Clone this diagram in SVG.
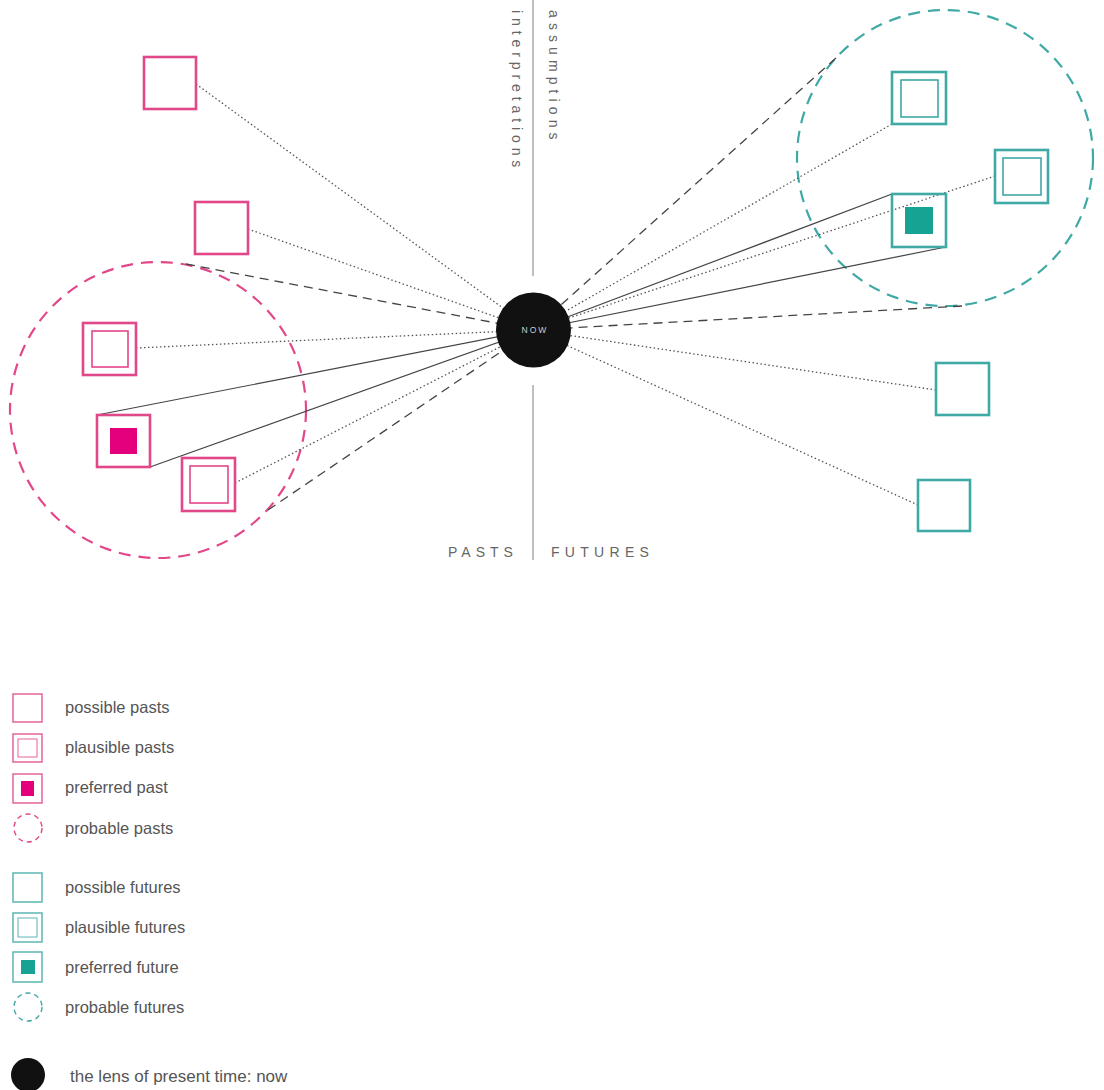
<svg xmlns="http://www.w3.org/2000/svg" width="1104" height="1090" viewBox="0 0 1104 1090">
<style>
.pk{fill:none;stroke:#e2478a;stroke-width:2.6}
.pki{fill:none;stroke:#e2478a;stroke-width:1.6}
.tl{fill:none;stroke:#3fa9a5;stroke-width:2.6}
.tli{fill:none;stroke:#3fa9a5;stroke-width:1.6}
.lpk{fill:none;stroke:#e2478a;stroke-width:1.5;opacity:.85}
.ltl{fill:none;stroke:#3fa9a5;stroke-width:1.5;opacity:.85}
.dot{stroke:#555;stroke-width:1.3;stroke-dasharray:1.5 2.5;fill:none}
.dash{stroke:#444;stroke-width:1.3;stroke-dasharray:9 6;fill:none}
.sol{stroke:#444;stroke-width:1.2;fill:none}
.axis{stroke:#aaa;stroke-width:1.5}
.lbl{font-family:"Liberation Sans",Arial,sans-serif;font-size:14px;fill:#666;letter-spacing:5px}
.leg{font-family:"Liberation Sans",Arial,sans-serif;font-size:16.5px;fill:#555}
</style>

<g id="axes">
<line class="axis" x1="533" y1="0" x2="533" y2="276"/>
<line class="axis" x1="533" y1="385" x2="533" y2="560"/>
<text class="lbl" transform="translate(512,10) rotate(90)" style="letter-spacing:4.9px">interpretations</text>
<text class="lbl" transform="translate(549,10) rotate(90)" style="letter-spacing:5.1px">assumptions</text>
<text class="lbl" x="448" y="557">PASTS</text>
<text class="lbl" x="551" y="557" style="letter-spacing:5.3px">FUTURES</text>
</g>

<g id="probable-pasts"><circle cx="158" cy="410" r="148" fill="none" stroke="#e2478a" stroke-width="2.2" stroke-dasharray="12 8"/></g>
<g id="probable-futures"><circle cx="945" cy="158" r="148" fill="none" stroke="#3fa9a5" stroke-width="2.2" stroke-dasharray="12 8"/></g>

<g id="connectors">
<line class="dot" x1="196" y1="84" x2="533" y2="330"/>
<line class="dot" x1="248" y1="229" x2="533" y2="330"/>
<line class="dash" x1="186" y1="264" x2="533" y2="330"/>
<line class="dot" x1="136" y1="348" x2="533" y2="330"/>
<line class="sol" x1="97" y1="415" x2="533" y2="330"/>
<line class="sol" x1="150" y1="467" x2="533" y2="330"/>
<line class="dot" x1="235" y1="483" x2="533" y2="330"/>
<line class="dash" x1="268" y1="510" x2="533" y2="330"/>
<line class="dash" x1="836" y1="58" x2="533" y2="330"/>
<line class="dot" x1="892" y1="124" x2="533" y2="330"/>
<line class="dot" x1="995" y1="176" x2="533" y2="330"/>
<line class="sol" x1="892" y1="194" x2="533" y2="330"/>
<line class="sol" x1="946" y1="247" x2="533" y2="330"/>
<line class="dash" x1="962" y1="306" x2="533" y2="330"/>
<line class="dot" x1="936" y1="390" x2="533" y2="330"/>
<line class="dot" x1="918" y1="505" x2="533" y2="330"/>
</g>

<g id="now">
<circle cx="533.5" cy="330" r="37.5" fill="#111"/>
<text x="535" y="333" text-anchor="middle" font-family="'Liberation Sans',Arial,sans-serif" font-size="8.5" fill="#cccccc" letter-spacing="2">NOW</text>
</g>

<g id="possible-past-1"><rect class="pk" x="144" y="57" width="52" height="52"/></g>
<g id="possible-past-2"><rect class="pk" x="195" y="202" width="53" height="52"/></g>
<g id="plausible-past-1"><rect class="pk" x="83" y="323" width="53" height="52"/><rect class="pki" x="92" y="331" width="36" height="36"/></g>
<g id="preferred-past"><rect class="pk" x="97" y="415" width="53" height="52"/><rect x="110" y="428" width="27" height="26" fill="#e4007c"/></g>
<g id="plausible-past-2"><rect class="pk" x="182" y="458" width="53" height="53"/><rect class="pki" x="190" y="466" width="38" height="37"/></g>

<g id="plausible-future-1"><rect class="tl" x="892" y="72" width="54" height="52"/><rect class="tli" x="901" y="80" width="37" height="37"/></g>
<g id="plausible-future-2"><rect class="tl" x="995" y="150" width="53" height="53"/><rect class="tli" x="1003" y="158" width="38" height="37"/></g>
<g id="preferred-future"><rect class="tl" x="892" y="194" width="54" height="53"/><rect x="905" y="207" width="28" height="27" fill="#17a394"/></g>
<g id="possible-future-1"><rect class="tl" x="936" y="363" width="53" height="52"/></g>
<g id="possible-future-2"><rect class="tl" x="918" y="480" width="52" height="51"/></g>

<g id="legend">
<rect class="lpk" x="13" y="694" width="29" height="28"/>
<text class="leg" x="65" y="713">possible pasts</text>
<rect class="lpk" x="13" y="734" width="29" height="28"/><rect class="lpk" x="18" y="739" width="19" height="18" style="stroke-width:1"/>
<text class="leg" x="65" y="753">plausible pasts</text>
<rect class="lpk" x="13" y="774" width="29" height="29"/><rect x="21" y="781" width="13" height="15" fill="#e4007c"/>
<text class="leg" x="65" y="793">preferred past</text>
<circle cx="28" cy="828" r="14" fill="none" stroke="#e2478a" stroke-width="1.4" stroke-dasharray="5 4"/>
<text class="leg" x="65" y="834">probable pasts</text>

<rect class="ltl" x="13" y="873" width="29" height="29"/>
<text class="leg" x="65" y="893">possible futures</text>
<rect class="ltl" x="13" y="913" width="29" height="29"/><rect class="ltl" x="18" y="918" width="19" height="19" style="stroke-width:1"/>
<text class="leg" x="65" y="933">plausible futures</text>
<rect class="ltl" x="13" y="952" width="29" height="30"/><rect x="21" y="960" width="14" height="14" fill="#17a394"/>
<text class="leg" x="65" y="973">preferred future</text>
<circle cx="28" cy="1007" r="14" fill="none" stroke="#3fa9a5" stroke-width="1.4" stroke-dasharray="5 4"/>
<text class="leg" x="65" y="1013">probable futures</text>

<circle cx="28" cy="1075" r="17" fill="#111"/>
<text class="leg" x="70" y="1082" style="font-size:17px">the lens of present time: now</text>
</g>
</svg>
